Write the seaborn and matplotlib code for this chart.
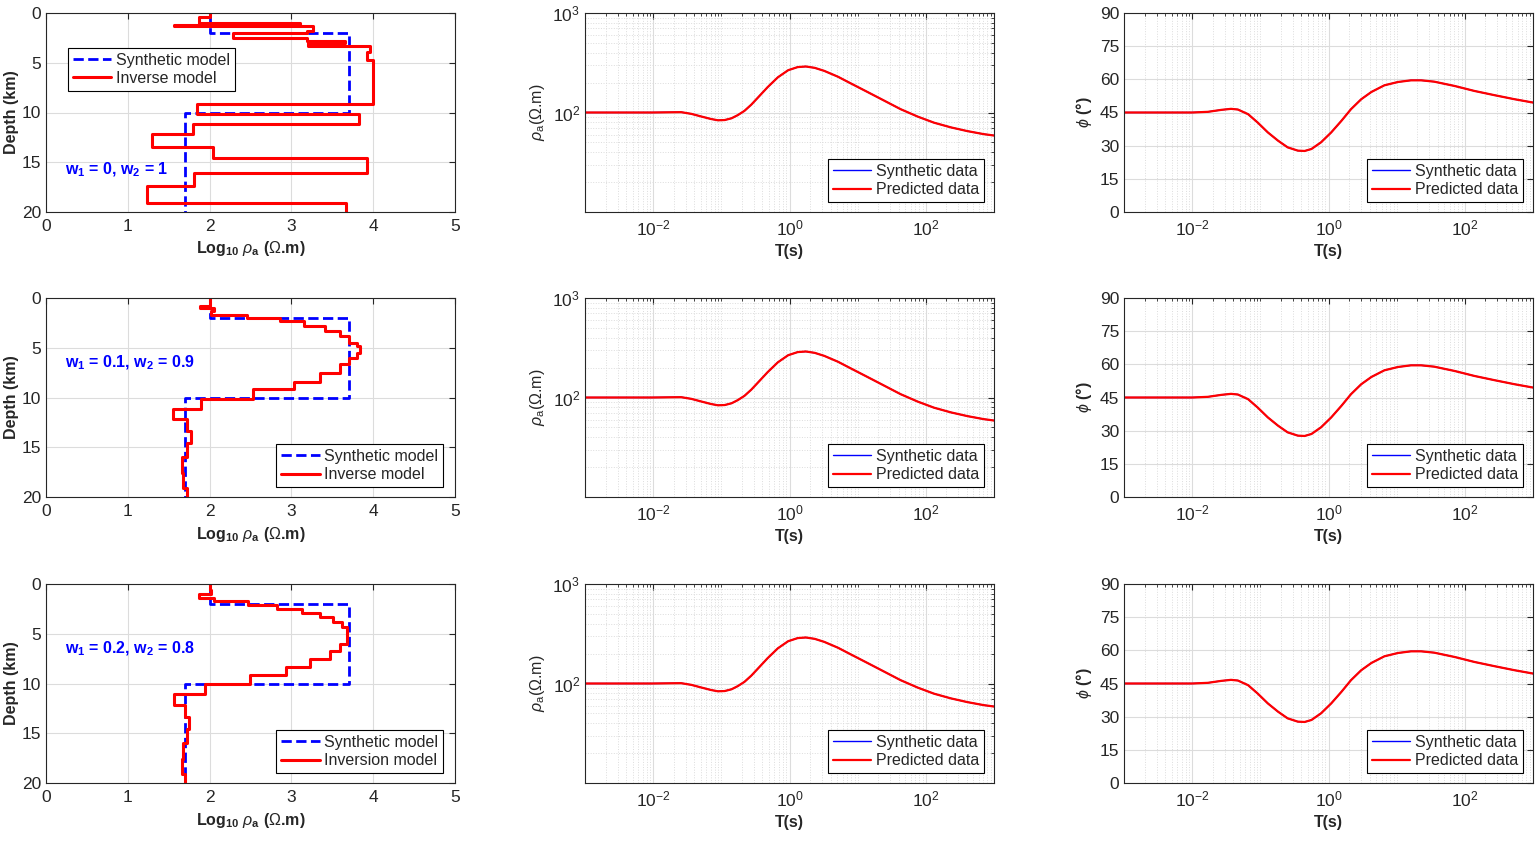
import numpy as np
import pandas as pd
import matplotlib
matplotlib.use('Agg')
import matplotlib.pyplot as plt
import seaborn as sns
from matplotlib.ticker import LogLocator, NullFormatter, FixedLocator

sns.set_style('white')
plt.rcParams['font.family'] = ['Liberation Sans', 'DejaVu Sans']
plt.rcParams['mathtext.fontset'] = 'custom'
plt.rcParams['mathtext.rm'] = 'Liberation Sans'
plt.rcParams['mathtext.it'] = 'Liberation Sans:italic'
plt.rcParams['mathtext.bf'] = 'Liberation Sans:bold'

# synthetic 3-layer model (log10 rho vs layer top depth, km)
syn_tops = [0, 2, 10]
syn_vals = [2.0, 3.7, 1.7]

# inverse models, one per weight pair
inv1_tops = [0, 0.45, 1.0, 1.2, 1.35, 1.77, 2.05, 2.55, 2.85, 3.05, 3.35, 3.9, 4.7,
             9.1, 10.15, 11.15, 12.2, 13.45, 14.6, 16.05, 17.4, 19.1]
inv1_vals = [2.0, 1.87, 3.1, 1.57, 3.27, 3.19, 2.29, 3.19, 3.66, 3.2, 3.96, 3.93, 4.0,
             1.84, 3.83, 1.8, 1.29, 2.04, 3.93, 1.81, 1.24, 3.67]

inv2_tops = [0, 0.8, 1.05, 1.35, 1.67, 2.0, 2.35, 2.85, 3.35, 3.85, 4.5, 4.85, 5.5, 6.0,
             6.65, 7.5, 8.4, 9.15, 10.15, 11.15, 12.2, 13.35, 14.6, 15.95, 17.6, 19.1]
inv2_vals = [2.0, 1.88, 2.05, 2.02, 2.46, 2.86, 3.16, 3.41, 3.59, 3.71, 3.8, 3.84, 3.8, 3.71,
             3.59, 3.35, 3.03, 2.53, 1.89, 1.55, 1.72, 1.77, 1.72, 1.66, 1.68, 1.72]

inv3_tops = [0, 0.65, 1.0, 1.4, 1.74, 2.07, 2.47, 2.9, 3.3, 3.8, 4.3, 6.0, 6.7, 7.5,
             8.3, 9.1, 10.1, 11.1, 12.2, 13.4, 14.6, 16.0, 17.6, 19.1]
inv3_vals = [2.0, 2.02, 1.87, 2.05, 2.47, 2.82, 3.13, 3.35, 3.51, 3.62, 3.68, 3.59, 3.47, 3.23,
             2.94, 2.49, 1.94, 1.57, 1.7, 1.75, 1.72, 1.67, 1.66, 1.7]

# apparent resistivity response
rho_logT = [-3, -2.02, -1.59, -1.44, -1.29, -1.15, -1.05, -0.95, -0.85, -0.76, -0.66,
            -0.56, -0.46, -0.32, -0.17, -0.02, 0.12, 0.24, 0.37, 0.51, 0.71, 0.9,
            1.15, 1.39, 1.63, 1.88, 2.12, 2.37, 2.61, 2.85, 3.0]
rho_a = [100, 100, 100.8, 96.9, 91, 86, 83.5, 84, 87.5, 94, 104,
         120, 142, 180, 226, 266, 286, 290, 281, 262, 229, 196,
         160, 131.5, 108, 91, 79, 70.8, 65, 60.6, 58.7]

# phase response
phi_logT = [-3, -2.55, -2.0, -1.77, -1.57, -1.43, -1.33, -1.18, -1.04, -0.89, -0.74,
            -0.6, -0.45, -0.35, -0.25, -0.11, 0.04, 0.19, 0.33, 0.48, 0.63, 0.82,
            1.02, 1.21, 1.36, 1.55, 1.85, 2.14, 2.44, 2.73, 3.0]
phi = [45, 45, 45, 45.3, 46.2, 46.65, 46.35, 44.25, 40.5, 36, 32.25,
       29.25, 27.75, 27.6, 28.5, 31.5, 36, 41.25, 46.5, 51, 54.3, 57.3,
       58.8, 59.55, 59.55, 58.95, 57, 54.75, 52.8, 51, 49.5]

weights = [r'w$_\mathbf{1}$ = 0, w$_\mathbf{2}$ = 1',
           r'w$_\mathbf{1}$ = 0.1, w$_\mathbf{2}$ = 0.9',
           r'w$_\mathbf{1}$ = 0.2, w$_\mathbf{2}$ = 0.8']
inv_names = ['Inverse model', 'Inverse model', 'Inversion model']
inv_models = [(inv1_tops, inv1_vals), (inv2_tops, inv2_vals), (inv3_tops, inv3_vals)]


def step_frame(tops, vals, bottom=20):
    bots = list(tops[1:]) + [bottom]
    xs, ys = [], []
    for t, b, v in zip(tops, bots, vals):
        xs += [v, v]
        ys += [t, b]
    return pd.DataFrame({'logrho': xs, 'depth': ys})


rho_df = pd.DataFrame({'T': 10.0 ** np.array(rho_logT), 'rho': rho_a})
phi_df = pd.DataFrame({'T': 10.0 ** np.array(phi_logT), 'phi': phi})
syn_df = step_frame(syn_tops, syn_vals)

TXT = '#262626'
GRID = '#dcdcdc'
fig = plt.figure(figsize=(15.39, 8.41), dpi=100)

lefts = [46, 585, 1124]
tops_px = [13, 298, 584]
W, H = 409, 199


def style(ax):
    for s in ax.spines.values():
        s.set_color(TXT)
        s.set_linewidth(0.8)
    ax.tick_params(which='both', direction='in', top=True, right=True,
                   colors=TXT, labelsize=12.5, length=4, pad=5)
    ax.tick_params(which='minor', length=2.5)
    ax.tick_params(axis='y', pad=3.5)


def legend(ax, loc, anchor, hl):
    lg = ax.legend(loc=loc, bbox_to_anchor=anchor, fontsize=11.5, fancybox=False,
                   edgecolor='black', framealpha=1, handlelength=hl,
                   borderpad=0.3, labelspacing=0.2, handletextpad=0.3,
                   borderaxespad=0)
    lg.get_frame().set_linewidth(0.8)
    for t in lg.get_texts():
        t.set_color(TXT)


for r in range(3):
    y0 = 1 - (tops_px[r] + H) / 841
    axes = [fig.add_axes([lefts[c] / 1539, y0, W / 1539, H / 841]) for c in range(3)]

    # model panel
    ax = axes[0]
    sns.lineplot(data=syn_df, x='logrho', y='depth', sort=False, estimator=None,
                 color='#0000ff', linestyle='--', linewidth=2, label='Synthetic model', ax=ax)
    tops, vals = inv_models[r]
    sns.lineplot(data=step_frame(tops, vals), x='logrho', y='depth', sort=False,
                 estimator=None, color='#ff0000', linewidth=2.2, label=inv_names[r], ax=ax)
    ax.set_xlim(0, 5)
    ax.set_ylim(20, 0)
    ax.set_xticks([0, 1, 2, 3, 4, 5])
    ax.set_yticks([0, 5, 10, 15, 20])
    ax.grid(True, color=GRID, linewidth=0.8)
    ax.set_xlabel(r'Log$_\mathbf{10}$ $\rho_\mathbf{a}$ ($\Omega$.m)', fontsize=11.5,
                  fontweight='bold', color=TXT, labelpad=4)
    ax.set_ylabel('Depth (km)', fontsize=11.5, fontweight='bold', color=TXT, labelpad=2)
    style(ax)
    if r == 0:
        legend(ax, 'upper left', (0.054, 0.824), 2.4)
        ax.text(0.23, 15.8, weights[r], color='#0000ff', fontsize=11.5,
                fontweight='bold', va='center')
    else:
        legend(ax, 'lower right', (0.971, 0.05), 2.4)
        ax.text(0.23, 6.5, weights[r], color='#0000ff', fontsize=11.5,
                fontweight='bold', va='center')

    # apparent resistivity panel
    ax = axes[1]
    sns.lineplot(data=rho_df, x='T', y='rho', color='#0000ff', linewidth=1,
                 label='Synthetic data', ax=ax)
    sns.lineplot(data=rho_df, x='T', y='rho', color='#ff0000', linewidth=1.6,
                 label='Predicted data', ax=ax)
    ax.set_xscale('log')
    ax.set_yscale('log')
    ax.set_xlim(1e-3, 1e3)
    ax.set_ylim(10, 1000)
    ax.xaxis.set_major_locator(FixedLocator([1e-2, 1e0, 1e2]))
    ax.xaxis.set_minor_locator(LogLocator(base=10, subs=np.arange(1, 10), numticks=20))
    ax.xaxis.set_minor_formatter(NullFormatter())
    ax.yaxis.set_major_locator(FixedLocator([1e2, 1e3]))
    ax.yaxis.set_minor_locator(LogLocator(base=10, subs=np.arange(2, 10), numticks=20))
    ax.yaxis.set_minor_formatter(NullFormatter())
    ax.grid(True, which='major', color=GRID, linewidth=0.8)
    ax.grid(True, which='minor', color=GRID, linewidth=0.7, linestyle=':')
    ax.set_xlabel('T(s)', fontsize=11.5, fontweight='bold', color=TXT, labelpad=4)
    ax.set_ylabel(r'$\rho_\mathrm{a}$($\Omega$.m)', fontsize=11.5, color=TXT, labelpad=4)
    style(ax)
    legend(ax, 'lower right', (0.975, 0.05), 2.4)

    # phase panel
    ax = axes[2]
    sns.lineplot(data=phi_df, x='T', y='phi', color='#0000ff', linewidth=1,
                 label='Synthetic data', ax=ax)
    sns.lineplot(data=phi_df, x='T', y='phi', color='#ff0000', linewidth=1.6,
                 label='Predicted data', ax=ax)
    ax.set_xscale('log')
    ax.set_xlim(1e-3, 1e3)
    ax.set_ylim(0, 90)
    ax.set_yticks(range(0, 91, 15))
    ax.xaxis.set_major_locator(FixedLocator([1e-2, 1e0, 1e2]))
    ax.xaxis.set_minor_locator(LogLocator(base=10, subs=np.arange(1, 10), numticks=20))
    ax.xaxis.set_minor_formatter(NullFormatter())
    ax.grid(True, which='major', color=GRID, linewidth=0.8)
    ax.grid(True, which='minor', axis='x', color=GRID, linewidth=0.7, linestyle=':')
    ax.set_xlabel('T(s)', fontsize=11.5, fontweight='bold', color=TXT, labelpad=4)
    ax.set_ylabel(r'$\phi$ $\mathbf{(°)}$', fontsize=11.5, color=TXT, labelpad=4)
    style(ax)
    legend(ax, 'lower right', (0.975, 0.05), 2.4)

fig.savefig('out.png', dpi=100)
